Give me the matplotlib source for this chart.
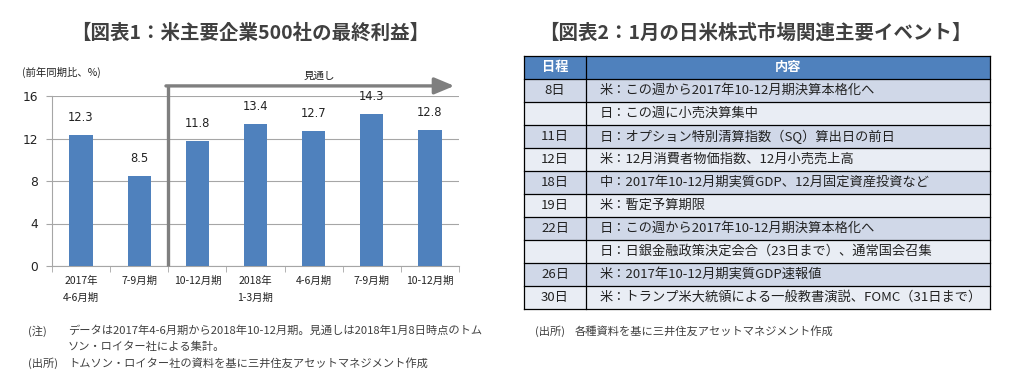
import numpy as np
import matplotlib
matplotlib.use('Agg')
import matplotlib.pyplot as plt
from matplotlib.patches import Rectangle

plt.rcParams['font.family'] = ['Noto Sans CJK JP', 'DejaVu Sans']
num_font = ['DejaVu Sans', 'Noto Sans CJK JP']

# Data: chart 1
periods = ['2017年\n4-6月期', '7-9月期', '10-12月期', '2018年\n1-3月期', '4-6月期', '7-9月期', '10-12月期']
profit = [12.3, 8.5, 11.8, 13.4, 12.7, 14.3, 12.8]
yticks = [0, 4, 8, 12, 16]

# Data: chart 2 (table)
dates = ['8日', '', '11日', '12日', '18日', '19日', '22日', '', '26日', '30日']
events = ['米：この週から2017年10-12月期決算本格化へ',
          '日：この週に小売決算集中',
          '日：オプション特別清算指数（SQ）算出日の前日',
          '米：12月消費者物価指数、12月小売売上高',
          '中：2017年10-12月期実質GDP、12月固定資産投資など',
          '米：暫定予算期限',
          '日：この週から2017年10-12月期決算本格化へ',
          '日：日銀金融政策決定会合（23日まで）、通常国会召集',
          '米：2017年10-12月期実質GDP速報値',
          '米：トランプ米大統領による一般教書演説、FOMC（31日まで）']

W, H = 1010, 386
fig = plt.figure(figsize=(W / 100, H / 100), dpi=100)

# overlay axes in pixel coords for titles, notes and the table
ov = fig.add_axes([0, 0, 1, 1])
ov.set_xlim(0, W)
ov.set_ylim(H, 0)
ov.axis('off')

txt = '#404040'
blue = '#4F81BD'

ov.text(250, 33, '【図表1：米主要企業500社の最終利益】', ha='center', va='center',
        fontsize=14, fontweight='bold', color=txt)
ov.text(755, 33, '【図表2：1月の日米株式市場関連主要イベント】', ha='center', va='center',
        fontsize=14, fontweight='bold', color=txt)
ov.text(22, 72, '(前年同期比、%)', ha='left', va='center', fontsize=7.5, color='#222222')

# --- chart 1 ---
ax = fig.add_axes([52 / W, (H - 266) / H, 407 / W, 170 / H])
ax.set_zorder(2)
ax.patch.set_alpha(0)
x = np.arange(len(profit))
ax.bar(x, profit, width=0.4, color=blue, zorder=3)
for xi, v in zip(x, profit):
    ax.annotate(f'{v:.1f}', (xi, v), xytext=(0, 8), textcoords='offset points',
                ha='center', va='bottom', fontsize=8.3, color='#222222', family=num_font)
ax.set_xlim(-0.5, len(profit) - 0.5)
ax.set_ylim(0, 16)
ax.set_yticks(yticks)
ax.set_yticklabels([str(t) for t in yticks], family=num_font)
ax.yaxis.grid(True, color='#A6A6A6', linewidth=0.8, zorder=0)
ax.set_xticks(x)
ax.set_xticklabels(periods, fontsize=7.5, color='#222222', linespacing=1.9, va='top')
ax.set_xticks(np.arange(-0.5, len(profit)), minor=True)
ax.tick_params(axis='x', which='major', length=0, pad=7)
ax.tick_params(axis='x', which='minor', length=4, color='#A6A6A6', direction='out')
ax.tick_params(axis='y', length=4, color='#A6A6A6', labelsize=8.8, labelcolor='#222222', pad=6)
for s in ['top', 'right']:
    ax.spines[s].set_visible(False)
for s in ['left', 'bottom']:
    ax.spines[s].set_color('#A6A6A6')
    ax.spines[s].set_linewidth(0.8)

# forecast marker: vertical line + arrow
y_arrow = 16.95
ax.plot([1.5, 1.5], [0, y_arrow], color='#7F7F7F', linewidth=2.4, clip_on=False, zorder=4,
        solid_capstyle='butt')
ax.annotate('', xy=(6.42, y_arrow), xytext=(1.46, y_arrow), annotation_clip=False,
            arrowprops=dict(arrowstyle='-|>,head_length=1.2,head_width=0.5', color='#7F7F7F',
                            linewidth=2.4, shrinkA=0, shrinkB=0))
ax.text(4.1, 17.9, '見通し', ha='center', va='center', fontsize=7.6, color='#222222')

# notes
fn = 8.1
ov.text(28, 331, '(注)', fontsize=fn, color=txt, va='center')
ov.text(68, 331, 'データは2017年4-6月期から2018年10-12月期。見通しは2018年1月8日時点のトム',
        fontsize=fn, color=txt, va='center')
ov.text(68, 347, 'ソン・ロイター社による集計。', fontsize=fn, color=txt, va='center')
ov.text(28, 363, '(出所)', fontsize=fn, color=txt, va='center')
ov.text(68, 363, 'トムソン・ロイター社の資料を基に三井住友アセットマネジメント作成',
        fontsize=fn, color=txt, va='center')
ov.text(535, 331, '(出所)', fontsize=fn, color=txt, va='center')
ov.text(575, 331, '各種資料を基に三井住友アセットマネジメント作成', fontsize=fn, color=txt, va='center')

# --- table ---
x0, x1, x2 = 524, 586, 990
top, rh = 56, 23
ov.add_patch(Rectangle((x0, top), x2 - x0, rh, facecolor=blue, edgecolor='none'))
ov.text((x0 + x1) / 2, top + rh / 2, '日程', ha='center', va='center', fontsize=9.5,
        fontweight='bold', color='white')
ov.text((x1 + x2) / 2, top + rh / 2, '内容', ha='center', va='center', fontsize=9.5,
        fontweight='bold', color='white')
for i, (d, e) in enumerate(zip(dates, events)):
    y = top + rh * (i + 1)
    fc = '#D0D8E8' if i % 2 == 0 else '#E9EDF4'
    ov.add_patch(Rectangle((x0, y), x2 - x0, rh, facecolor=fc, edgecolor='none'))
    ov.text((x0 + x1) / 2, y + rh / 2, d, ha='center', va='center', fontsize=9.5, color='#222222')
    ov.text(600, y + rh / 2, e, ha='left', va='center', fontsize=9.5, color='#222222')
nrows = len(dates) + 1
for i in range(nrows + 1):
    y = top + rh * i
    ov.plot([x0, x2], [y, y], color='black', linewidth=0.9)
for xv in [x0, x1, x2]:
    ov.plot([xv, xv], [top, top + rh * nrows], color='black', linewidth=0.9)

fig.savefig('out.png', dpi=100)
